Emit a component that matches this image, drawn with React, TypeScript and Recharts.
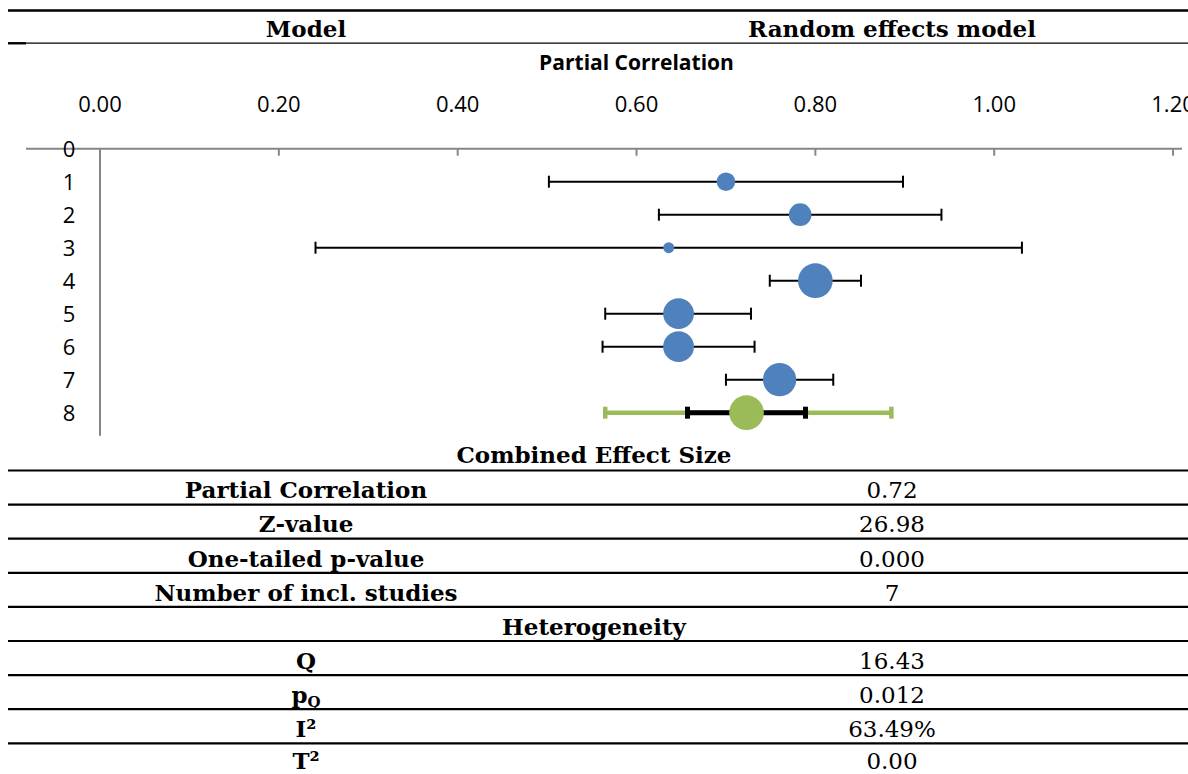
import React from 'react';
import { ScatterChart, Scatter, XAxis, YAxis, ZAxis, ErrorBar } from 'recharts';

// ---------- data ----------
const studyRows = [1, 2, 3, 4, 5, 6, 7];
const effectSizes = [0.7, 0.783, 0.636, 0.8, 0.647, 0.647, 0.76];
const ciLower = [0.502, 0.625, 0.241, 0.749, 0.565, 0.562, 0.7];
const ciUpper = [0.898, 0.941, 1.031, 0.851, 0.728, 0.732, 0.82];
const weights = [6.7, 9.9, 2.3, 23.2, 18.2, 18.2, 21.4];

const combinedRow = 8;
const combinedEffect = 0.723;
const combinedCI = [0.657, 0.789];
const predictionInterval = [0.565, 0.885];
const combinedWeight = 23.2;

const xTicks = [0, 0.2, 0.4, 0.6, 0.8, 1.0, 1.2];
const yTicks = [0, 1, 2, 3, 4, 5, 6, 7, 8];

const headerLabels = ['Model', 'Random effects model'];
const chartTitle = 'Partial Correlation';
const combinedTitle = 'Combined Effect Size';
const combinedLabels = ['Partial Correlation', 'Z-value', 'One-tailed p-value', 'Number of incl. studies'];
const combinedValues = ['0.72', '26.98', '0.000', '7'];
const heteroTitle = 'Heterogeneity';
const heteroLabels = ['Q', 'pQ', 'I²', 'T²'];
const heteroValues = ['16.43', '0.012', '63.49%', '0.00'];

// ---------- derived chart data ----------
const studyData = studyRows.map((row, i) => ({
  x: effectSizes[i],
  y: row,
  w: weights[i],
  err: [effectSizes[i] - ciLower[i], ciUpper[i] - effectSizes[i]],
}));

const combinedData = [
  {
    x: combinedEffect,
    y: combinedRow,
    w: combinedWeight,
    ci: [combinedEffect - combinedCI[0], combinedCI[1] - combinedEffect],
    pi: [combinedEffect - predictionInterval[0], predictionInterval[1] - combinedEffect],
  },
];

// ---------- styles ----------
const AXIS = '#868686';
const BLUE = '#4F81BD';
const GREEN = '#9BBB59';
const SANS = '"Open Sans", sans-serif';
const SERIF = '"DejaVu Serif", serif';

const XTick = (props: any) => {
  const { x, y, payload } = props;
  return (
    <g>
      <line x1={x} x2={x} y1={y} y2={y + 7} stroke={AXIS} strokeWidth={2} />
      <text x={x} y={y - 37} textAnchor="middle" fontFamily={SANS} fontSize={22} fill="#000">
        {Number(payload.value).toFixed(2)}
      </text>
    </g>
  );
};

const YTick = (props: any) => {
  const { x, y, payload } = props;
  return (
    <g>
      {payload.value === 0 && <line x1={x - 74} x2={x} y1={y} y2={y} stroke={AXIS} strokeWidth={2} />}
      <text x={x - 31} y={y + 7.8} textAnchor="middle" fontFamily={SANS} fontSize={22} fill="#000">
        {payload.value}
      </text>
    </g>
  );
};

const LINE0 = 470.5;
const STEP = 34.1;

const HLine = ({ y, w = 2.2, x1 = 8 }: { y: number; w?: number; x1?: number }) => (
  <line x1={x1} x2={1188} y1={y} y2={y} stroke="#000" strokeWidth={w} />
);

const Label = ({ x, y, text, bold = true }: { x: number; y: number; text: string; bold?: boolean }) => {
  if (text === 'pQ') {
    return (
      <text x={x} y={y} textAnchor="middle" fontFamily={SERIF} fontSize={23} fontWeight={700} fill="#000">
        <tspan>p</tspan>
        <tspan fontSize={15} dy={4}>Q</tspan>
      </text>
    );
  }
  return (
    <text x={x} y={y} textAnchor="middle" fontFamily={SERIF} fontSize={23} fontWeight={bold ? 700 : 400} fill="#000">
      {text}
    </text>
  );
};

export default function App() {
  const lines = Array.from({ length: 9 }, (_, j) => LINE0 + STEP * j);
  const heteroBaselines = [lines[6] - 6.3, lines[7] - 6.3, lines[8] - 6.3, 768.5];
  return (
    <div style={{ position: 'absolute', left: 0, top: 0, width: 1188, height: 774, background: '#fff', overflow: 'hidden' }}>
      <div style={{ position: 'absolute', left: 0, top: 0 }}>
        <ScatterChart width={1188} height={440} margin={{ top: 0, right: 6, bottom: 4.2, left: 0 }}>
          <XAxis
            type="number"
            dataKey="x"
            orientation="top"
            domain={[0, 1.21]}
            ticks={xTicks}
            interval={0}
            height={148.7}
            allowDataOverflow
            axisLine={{ stroke: AXIS, strokeWidth: 2 }}
            tickLine={false}
            tickSize={0}
            tickMargin={0}
            tick={<XTick />}
          />
          <YAxis
            type="number"
            dataKey="y"
            domain={[0, 8.7]}
            reversed
            ticks={yTicks}
            interval={0}
            width={100}
            allowDataOverflow
            axisLine={{ stroke: AXIS, strokeWidth: 2 }}
            tickLine={false}
            tickSize={0}
            tickMargin={0}
            tick={<YTick />}
          />
          <ZAxis type="number" dataKey="w" domain={[0, 100]} range={[0, 4071]} />
          <Scatter data={studyData} fill={BLUE} isAnimationActive={false}>
            <ErrorBar dataKey="err" direction="x" width={6} stroke="#000" strokeWidth={2} />
          </Scatter>
          <Scatter data={combinedData} fill={GREEN} isAnimationActive={false}>
            <ErrorBar dataKey="pi" direction="x" width={6} stroke={GREEN} strokeWidth={4.5} />
            <ErrorBar dataKey="ci" direction="x" width={6} stroke="#000" strokeWidth={5} />
          </Scatter>
        </ScatterChart>
      </div>
      <svg width={1188} height={774} style={{ position: 'absolute', left: 0, top: 0, pointerEvents: 'none' }}>
        <HLine y={10.5} w={2.3} />
        <HLine y={43.2} w={1.2} />
        <line x1={8} x2={26} y1={43.3} y2={43.3} stroke="#000" strokeWidth={2.3} />
        <Label x={306} y={36.7} text={headerLabels[0]} />
        <Label x={892} y={36.7} text={headerLabels[1]} />
        <text x={636.5} y={70} textAnchor="middle" fontFamily={SANS} fontSize={21} fontWeight={700} fill="#000">
          {chartTitle}
        </text>
        <Label x={594} y={LINE0 - 7.2} text={combinedTitle} />
        {lines.map((y, j) => (
          <HLine key={j} y={y} />
        ))}
        {combinedLabels.map((t, i) => (
          <g key={'c' + i}>
            <Label x={306} y={lines[i + 1] - 6.3} text={t} />
            <Label x={892} y={lines[i + 1] - 6.3} text={combinedValues[i]} bold={false} />
          </g>
        ))}
        <Label x={594} y={lines[5] - 6.3} text={heteroTitle} />
        {heteroLabels.map((t, i) => (
          <g key={'h' + i}>
            <Label x={306} y={heteroBaselines[i]} text={t} />
            <Label x={892} y={heteroBaselines[i]} text={heteroValues[i]} bold={false} />
          </g>
        ))}
      </svg>
    </div>
  );
}
